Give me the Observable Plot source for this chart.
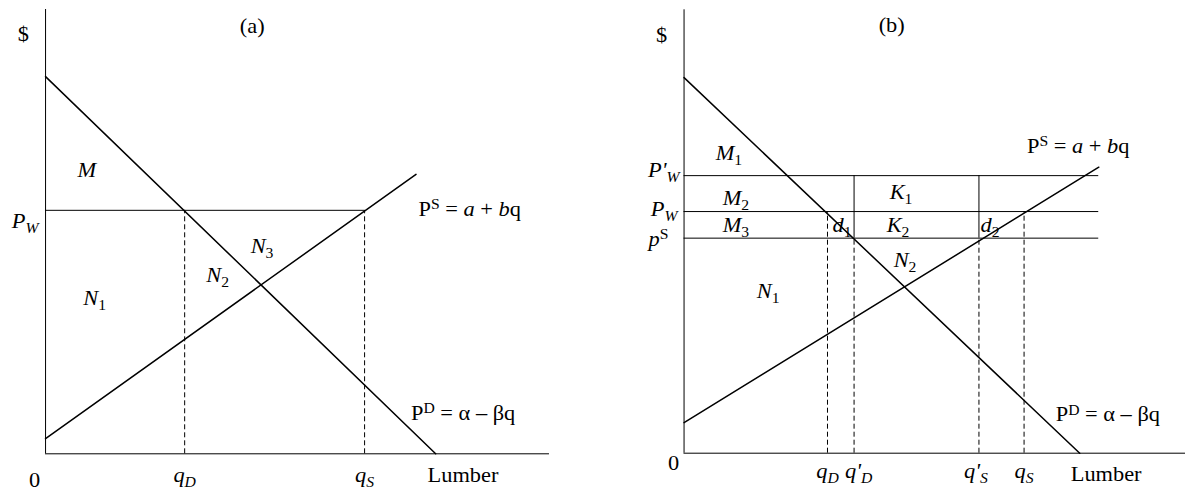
<!DOCTYPE html>
<html><head><meta charset="utf-8">
<script src="https://cdn.jsdelivr.net/npm/d3@7"></script>
<script src="https://cdn.jsdelivr.net/npm/@observablehq/plot@0.6"></script>
<style>
html,body{margin:0;padding:0;background:#fff;}
#chart{position:relative;width:1189px;height:491px;overflow:hidden;background:#fff;}
#chart svg{position:absolute;top:0;}
#chart svg line, #chart svg path{vector-effect:non-scaling-stroke;}
#chart svg text{white-space:pre;}
</style></head><body><div id="chart"></div>
<script>
// ---------- Panel (a) data: [quantity, price] in axis units (0..100) ----------
const aDemand = [[0, 84.9], [77.4, 0]];      // P^D = α − βq
const aSupply = [[0, 3.4], [73.5, 62.9]];     // P^S = a + bq
const aPW = 54.8;                             // world price P_W
const aQuantities = [27.6, 63.3];             // q_D, q_S
const aQuantityLabels = ["i:q|S:D", "i:q|S:S"];

// ---------- Panel (b) data ----------
const bDemand = [[0, 84.7], [78.9, 0]];
const bSupply = [[0, 6.9], [82.7, 64.5]];
const bPrices = [62.6, 54.5, 48.5];           // P'_W, P_W, p^S
const bPriceLabels = ["i:P'|S:W", "i:P|S:W", "i:p|u:S"];
const bQuantities = [28.6, 33.9, 58.8, 67.8]; // q_D, q'_D, q'_S, q_S
const bQuantityLabels = ["i:q|S:D", "i:q'|S:D", "i:q'|S:S", "i:q|S:S"];
const bLineEnd = 82.7;

const FONT = "'Liberation Serif', 'Times New Roman', serif";
const K = 1.12;          // horizontal stretch of the reference
const SUB = 5, SUP = 7, SMALL = 14;

// text annotations (positions in data units)
const aLabels = [
  {q: -4.4, p: 92.8, t: "n:$", a: "middle"},
  {q: 41.0, p: 94.8, t: "n:(a)", a: "middle"},
  {q: 6.35, p: 62.2, t: "i:M", a: "start"},
  {q: -1.4, p: 50.9, t: "i:P|S:W", a: "end"},
  {q: 40.7, p: 45.3, t: "i:N|s:3", a: "start"},
  {q: 31.9, p: 38.6, t: "i:N|s:2", a: "start"},
  {q: 7.5, p: 33.6, t: "i:N|s:1", a: "start"},
  {q: 74.0, p: 53.6, t: "n:P|u:S|n: = |i:a|n: + |i:b|n:q", a: "start"},
  {q: 72.5, p: 7.5, t: "n:P|u:D|n: = α – βq", a: "start"},
  {q: -2.2, p: -7.4, t: "n:0", a: "middle"},
  {q: aQuantities[0], p: -6.3, t: aQuantityLabels[0], a: "middle"},
  {q: aQuantities[1], p: -6.3, t: aQuantityLabels[1], a: "middle"},
  {q: 75.8, p: -6.45, t: "n:Lumber", a: "start"}
];
const bLabels = [
  {q: -4.5, p: 92.85, t: "n:$", a: "middle"},
  {q: 41.4, p: 94.9, t: "n:(b)", a: "middle"},
  {q: 6.3, p: 66.2, t: "i:M|s:1", a: "start"},
  {q: -0.9, p: 62.4, t: bPriceLabels[0], a: "end"},
  {q: 7.7, p: 55.9, t: "i:M|s:2", a: "start"},
  {q: 41.0, p: 57.4, t: "i:K|s:1", a: "start"},
  {q: -1.3, p: 53.6, t: bPriceLabels[1], a: "end"},
  {q: 7.7, p: 49.8, t: "i:M|s:3", a: "start"},
  {q: 29.6, p: 49.8, t: "i:d|s:1", a: "start"},
  {q: 40.4, p: 49.8, t: "i:K|s:2", a: "start"},
  {q: 59.1, p: 49.8, t: "i:d|s:2", a: "start"},
  {q: -3.1, p: 46.8, t: bPriceLabels[2], a: "end"},
  {q: 41.8, p: 42.1, t: "i:N|s:2", a: "start"},
  {q: 14.5, p: 34.9, t: "i:N|s:1", a: "start"},
  {q: 68.4, p: 67.6, t: "n:P|u:S|n: = |i:a|n: + |i:b|n:q", a: "start"},
  {q: 74.1, p: 7.15, t: "n:P|u:D|n: = α – βq", a: "start"},
  {q: -2.1, p: -3.7, t: "n:0", a: "middle"},
  {q: bQuantities[0], p: -5.5, t: bQuantityLabels[0], a: "middle"},
  {q: bQuantities[1] + 0.9, p: -5.5, t: bQuantityLabels[1], a: "middle"},
  {q: bQuantities[2] - 0.6, p: -5.5, t: bQuantityLabels[2], a: "middle"},
  {q: bQuantities[3], p: -5.5, t: bQuantityLabels[3], a: "middle"},
  {q: 77.1, p: -6.2, t: "n:Lumber", a: "start"}
];

function textMarks(labels) {
  return ["start", "middle", "end"].map(a =>
    Plot.text(labels.filter(d => d.a === a), {
      x: "q", y: "p", text: "t", textAnchor: a, lineAnchor: "bottom",
      fontSize: 20, fill: "black"
    }));
}

function richify(svg) {
  svg.querySelectorAll("text").forEach(el => {
    const s = el.textContent;
    if (!/^[nisSuU]:/.test(s)) return;
    el.textContent = "";
    let shift = 0;
    for (const seg of s.split("|")) {
      const code = seg[0], str = seg.slice(2);
      const ts = document.createElementNS("http://www.w3.org/2000/svg", "tspan");
      const target = "sS".includes(code) ? SUB : "uU".includes(code) ? -SUP : 0;
      if (target !== shift) ts.setAttribute("dy", target - shift);
      shift = target;
      if ("iSU".includes(code)) ts.setAttribute("font-style", "italic");
      if (target !== 0) ts.setAttribute("font-size", SMALL);
      ts.textContent = str;
      el.appendChild(ts);
    }
  });
}

function panel({left, width, axisLeft, axisRight, axisTop, axisBottom, marks}) {
  const w = width / K;
  const svg = Plot.plot({
    width: w, height: 491,
    marginLeft: axisLeft / K, marginRight: w - axisRight / K,
    marginTop: axisTop, marginBottom: 491 - axisBottom,
    x: {domain: [0, 100], axis: null},
    y: {domain: [0, 100], axis: null},
    style: {fontFamily: FONT, fontSize: "20px", background: "white", color: "black", overflow: "visible"},
    marks
  });
  svg.setAttribute("width", width);
  svg.setAttribute("preserveAspectRatio", "none");
  svg.style.width = width + "px";
  svg.style.height = "491px";
  svg.style.maxWidth = "none";
  svg.style.left = left + "px";
  richify(svg);
  return svg;
}

const X = d => d[0], Y = d => d[1];
const dash = "5,3";

const chartA = panel({
  left: 0, width: 594, axisLeft: 45, axisRight: 549, axisTop: 9, axisBottom: 453.3,
  marks: [
    Plot.ruleX([0], {y1: 0, y2: 100, stroke: "black"}),
    Plot.ruleY([0], {x1: 0, x2: 100, stroke: "black"}),
    Plot.line(aDemand, {x: X, y: Y, stroke: "black"}),
    Plot.line(aSupply, {x: X, y: Y, stroke: "black"}),
    Plot.ruleY([aPW], {x1: 0, x2: aQuantities[1], stroke: "black"}),
    Plot.ruleX(aQuantities, {y1: 0, y2: aPW, stroke: "black", strokeDasharray: dash}),
    ...textMarks(aLabels)
  ]
});

const chartB = panel({
  left: 594, width: 595, axisLeft: 89.5, axisRight: 591, axisTop: 9.3, axisBottom: 452.7,
  marks: [
    Plot.ruleX([0], {y1: 0, y2: 100, stroke: "black"}),
    Plot.ruleY([0], {x1: 0, x2: 100, stroke: "black"}),
    Plot.line(bDemand, {x: X, y: Y, stroke: "black"}),
    Plot.line(bSupply, {x: X, y: Y, stroke: "black"}),
    Plot.ruleY(bPrices, {x1: 0, x2: bLineEnd, stroke: "black"}),
    Plot.ruleX([bQuantities[1], bQuantities[2]], {y1: bPrices[2], y2: bPrices[0], stroke: "black"}),
    Plot.ruleX([bQuantities[0], bQuantities[3]], {y1: 0, y2: bPrices[1], stroke: "black", strokeDasharray: dash}),
    Plot.ruleX([bQuantities[1], bQuantities[2]], {y1: 0, y2: bPrices[2], stroke: "black", strokeDasharray: dash}),
    ...textMarks(bLabels)
  ]
});

const root = document.getElementById("chart");
root.appendChild(chartA);
root.appendChild(chartB);
</script></body></html>
